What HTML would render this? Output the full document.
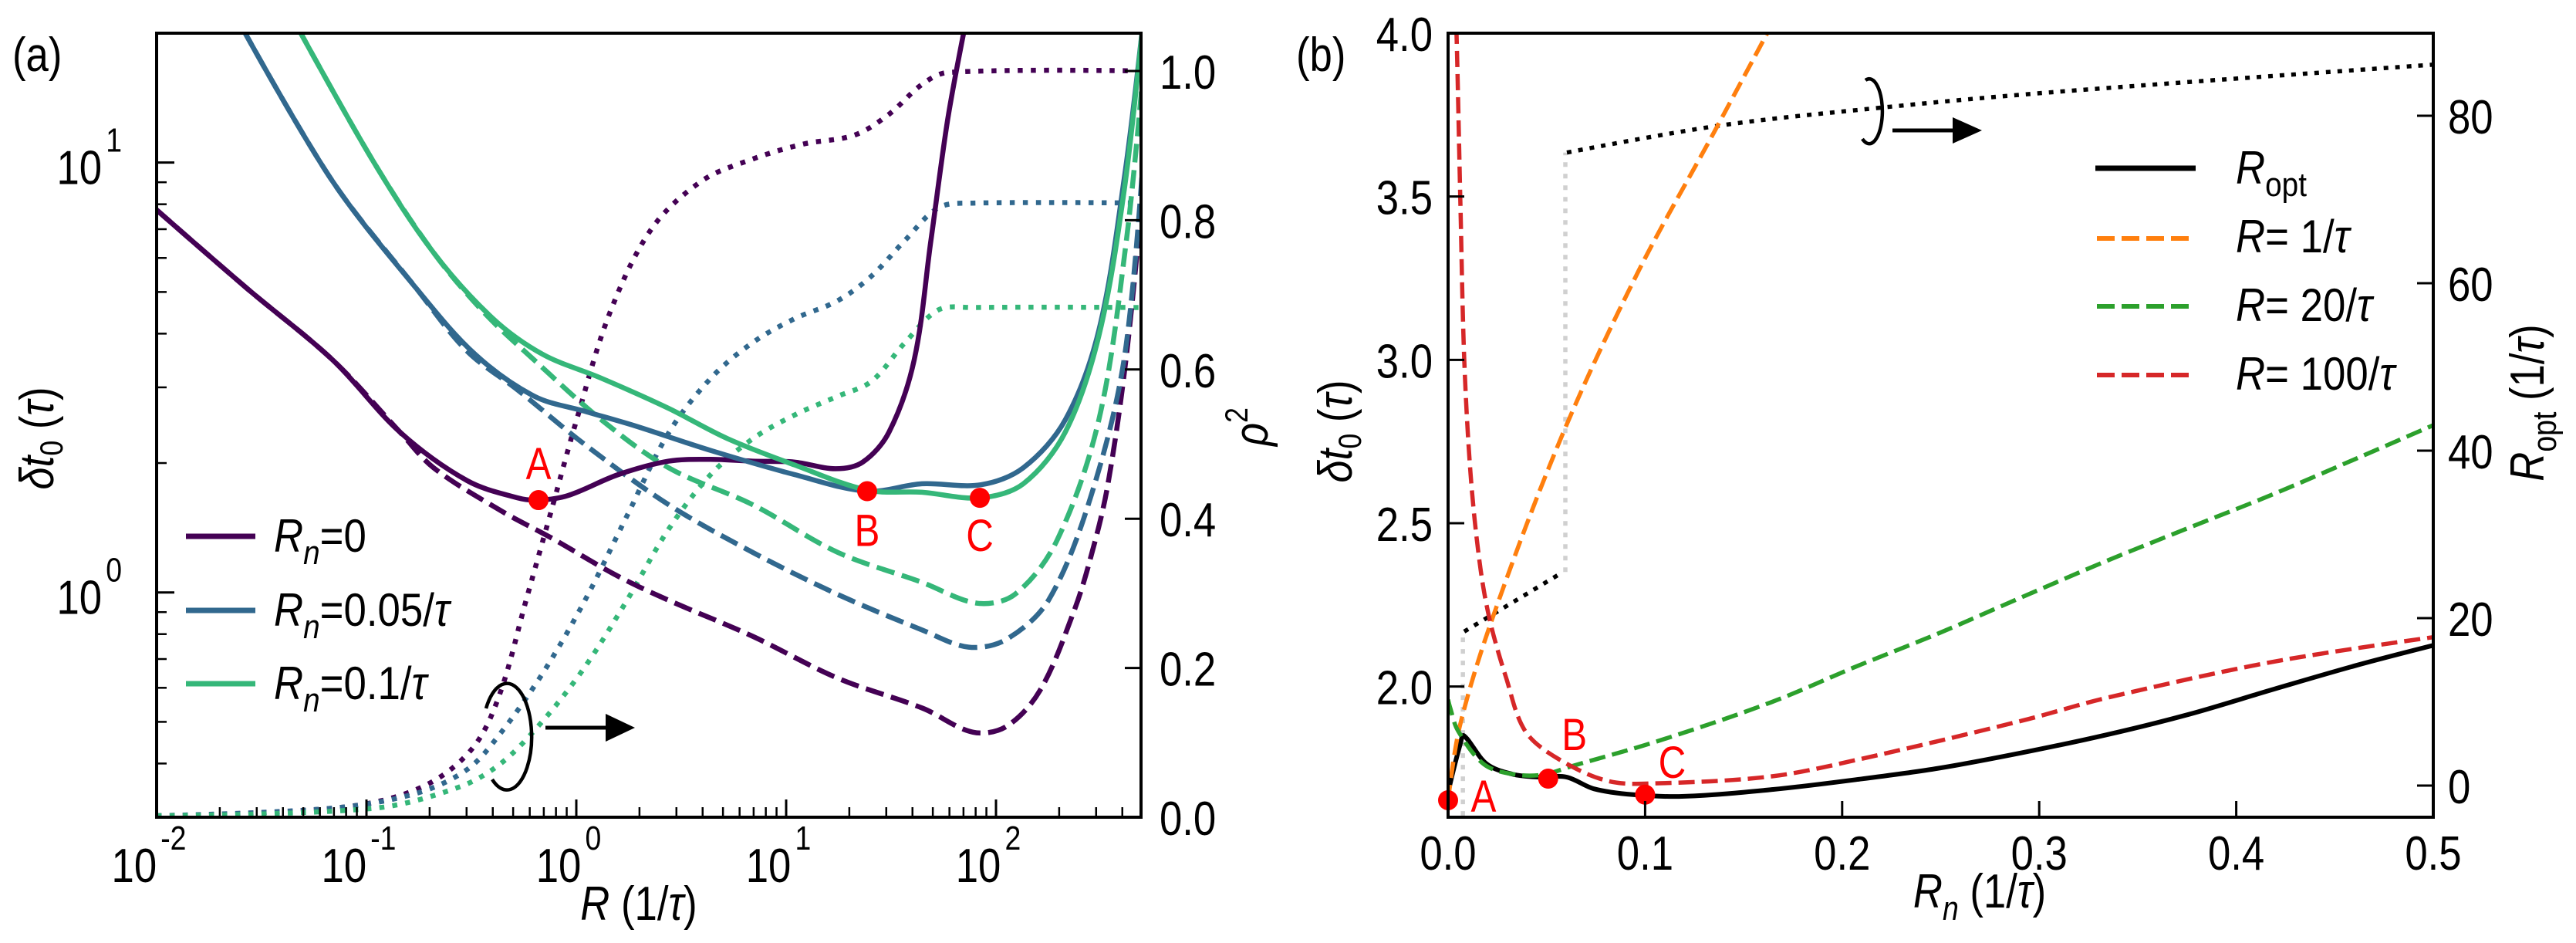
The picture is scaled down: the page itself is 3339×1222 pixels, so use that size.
<!DOCTYPE html>
<html><head><meta charset="utf-8"><style>
html,body{margin:0;padding:0;background:#fff;}
svg{display:block;font-family:"Liberation Sans",sans-serif;}
</style></head><body>
<svg id="fig" xmlns="http://www.w3.org/2000/svg" width="3339" height="1222" viewBox="0 0 3339 1222">
<defs>
<clipPath id="clipA"><rect x="203" y="43" width="1276" height="1016"/></clipPath>
<clipPath id="clipB"><rect x="1877" y="43" width="1277" height="1016"/></clipPath>
</defs>
<rect width="3339" height="1222" fill="#fff"/>
<g id="panelA">
 <g id="aMarks" clip-path="url(#clipA)"></g>
 <g id="aTicks"></g>
 <rect x="203" y="43" width="1276" height="1016" fill="none" stroke="#000" stroke-width="4"/>
 <text transform="translate(16,92) scale(0.85,1)" font-size="62">(a)</text>
 <text transform="translate(828,1192) scale(0.85,1)" font-size="62" text-anchor="middle"><tspan font-style="italic">R</tspan> (1/<tspan font-style="italic">τ</tspan>)</text>
 <text transform="translate(69,568) rotate(-90) scale(0.85,1)" font-size="62" text-anchor="middle"><tspan font-style="italic">δt</tspan><tspan font-size="42" dy="12">0</tspan><tspan dy="-12"> (</tspan><tspan font-style="italic">τ</tspan>)</text>
 <text transform="translate(1643,553) rotate(-90) scale(0.85,1)" font-size="62" text-anchor="middle"><tspan font-style="italic">ρ</tspan><tspan font-size="42" dy="-26">2</tspan></text>
 <g>
  <line x1="241" y1="695" x2="331" y2="695" stroke="#440154" stroke-width="7"/>
  <line x1="241" y1="791" x2="331" y2="791" stroke="#31688e" stroke-width="7"/>
  <line x1="241" y1="886" x2="331" y2="886" stroke="#35b779" stroke-width="7"/>
  <text transform="translate(355,715) scale(0.88,1)" font-size="60"><tspan font-style="italic">R</tspan><tspan font-style="italic" font-size="44" dy="16">n</tspan><tspan dy="-16">=0</tspan></text>
  <text transform="translate(355,811) scale(0.88,1)" font-size="60"><tspan font-style="italic">R</tspan><tspan font-style="italic" font-size="44" dy="16">n</tspan><tspan dy="-16">=0.05/</tspan><tspan font-style="italic">τ</tspan></text>
  <text transform="translate(355,906) scale(0.88,1)" font-size="60"><tspan font-style="italic">R</tspan><tspan font-style="italic" font-size="44" dy="16">n</tspan><tspan dy="-16">=0.1/</tspan><tspan font-style="italic">τ</tspan></text>
 </g>
 <path d="M 630 918 A 32 69 0 1 1 638 1010" fill="none" stroke="#000" stroke-width="4.5"/>
 <line x1="707" y1="943" x2="790" y2="943" stroke="#000" stroke-width="5"/>
 <polygon points="785,925 823,943 785,961" fill="#000"/>
</g>
<g id="panelB">
 <g id="bMarks" clip-path="url(#clipB)"></g>
 <g id="bTicks"></g>
 <rect x="1877" y="43" width="1277" height="1016" fill="none" stroke="#000" stroke-width="4"/>
 <text transform="translate(1680,92) scale(0.85,1)" font-size="62">(b)</text>
 <text transform="translate(2566,1176) scale(0.85,1)" font-size="62" text-anchor="middle"><tspan font-style="italic">R</tspan><tspan font-style="italic" font-size="44" dy="16">n</tspan><tspan dy="-16"> (1/</tspan><tspan font-style="italic">τ</tspan>)</text>
 <text transform="translate(1752,559) rotate(-90) scale(0.85,1)" font-size="62" text-anchor="middle"><tspan font-style="italic">δt</tspan><tspan font-size="42" dy="12">0</tspan><tspan dy="-12"> (</tspan><tspan font-style="italic">τ</tspan>)</text>
 <text transform="translate(3297,522) rotate(-90) scale(0.85,1)" font-size="62" text-anchor="middle"><tspan font-style="italic">R</tspan><tspan font-size="44" dy="16">opt</tspan><tspan dy="-16"> (1/</tspan><tspan font-style="italic">τ</tspan>)</text>
 <g>
  <line x1="2716" y1="218" x2="2846" y2="218" stroke="#000" stroke-width="7"/>
  <line x1="2718" y1="309" x2="2846" y2="309" stroke="#ff7f0e" stroke-width="6" stroke-dasharray="23 9"/>
  <line x1="2718" y1="397" x2="2846" y2="397" stroke="#2ca02c" stroke-width="6" stroke-dasharray="23 9"/>
  <line x1="2718" y1="486" x2="2846" y2="486" stroke="#d62728" stroke-width="6" stroke-dasharray="23 9"/>
  <text transform="translate(2898,238) scale(0.88,1)" font-size="60"><tspan font-style="italic">R</tspan><tspan font-size="44" dy="16">opt</tspan></text>
  <text transform="translate(2898,327) scale(0.88,1)" font-size="60"><tspan font-style="italic">R</tspan>= 1/<tspan font-style="italic">τ</tspan></text>
  <text transform="translate(2898,416) scale(0.88,1)" font-size="60"><tspan font-style="italic">R</tspan>= 20/<tspan font-style="italic">τ</tspan></text>
  <text transform="translate(2898,505) scale(0.88,1)" font-size="60"><tspan font-style="italic">R</tspan>= 100/<tspan font-style="italic">τ</tspan></text>
 </g>
 <path d="M 2418 104 A 17 42 0 1 1 2414 180" fill="none" stroke="#000" stroke-width="4.5"/>
 <line x1="2453" y1="169" x2="2535" y2="169" stroke="#000" stroke-width="5"/>
 <polygon points="2531,152 2569,169 2531,186" fill="#000"/>
</g>
</svg>
<script>
// ---------- Panel (a) data: log10(R) and delta t0 (tau) ----------
const aRn0SolidLogR = [-2.0,-1.57,-1.16,-0.84,-0.52,-0.28,-0.18,-0.04,0.2,0.44,0.64,0.84,1.04,1.235,1.365,1.49,1.61,1.69,1.77,1.85];
const aRn0SolidDt   = [7.76,5.1,3.47,2.36,1.82,1.66,1.64,1.68,1.88,2.02,2.04,2.02,2.01,1.94,2.01,2.36,3.47,6.6,12.6,20.5];
const aRn0DashLogR  = [-2.0,-1.57,-1.16,-0.84,-0.68,-0.36,-0.12,0.2,0.44,0.84,1.245,1.65,1.89,2.05,2.21,2.37,2.45,2.53,2.62,2.70];
const aRn0DashDt    = [7.76,5.1,3.47,2.36,1.95,1.55,1.34,1.09,0.959,0.791,0.632,0.538,0.473,0.488,0.592,0.9,1.2,1.75,3.5,8.6];
const aRn005SolidLogR = [-1.59,-1.165,-0.763,-0.482,-0.2,0.04,0.28,0.64,1.04,1.386,1.647,1.928,2.13,2.33,2.49,2.61,2.70];
const aRn005SolidDt   = [20.5,9.1,5.1,3.58,2.86,2.64,2.44,2.14,1.88,1.72,1.79,1.78,1.95,2.52,4.07,9.1,21];
const aRn005DashLogR = [-1.59,-1.165,-0.763,-0.52,-0.28,0.04,0.44,0.84,1.245,1.65,1.87,2.05,2.25,2.45,2.61,2.70];
const aRn005DashDt   = [20.5,9.1,5.1,3.64,2.96,2.21,1.60,1.24,0.99,0.817,0.746,0.778,0.959,1.66,3.47,10];
const aRn01SolidLogR = [-1.325,-0.964,-0.683,-0.40,-0.16,0.12,0.44,0.72,1.04,1.386,1.647,1.923,2.13,2.33,2.49,2.61,2.70];
const aRn01SolidDt   = [20.5,10.0,6.2,4.35,3.58,3.15,2.68,2.28,1.98,1.73,1.71,1.66,1.79,2.36,3.95,8.55,21];
const aRn01DashLogR = [-1.325,-0.964,-0.683,-0.44,-0.2,0.12,0.44,0.84,1.245,1.647,1.91,2.09,2.29,2.49,2.62,2.70];
const aRn01DashDt   = [20.5,10.0,6.2,4.48,3.47,2.52,1.95,1.60,1.24,1.056,0.944,0.99,1.32,2.52,6.5,16];
// rho^2 dotted curves (right axis)
const aRn0RhoLogR = [-2.0,-1.365,-0.964,-0.683,-0.482,-0.36,-0.24,-0.12,0,0.16,0.36,0.60,0.84,1.08,1.325,1.49,1.647,1.77,2.70];
const aRn0Rho     = [0.002,0.008,0.02,0.048,0.097,0.169,0.29,0.41,0.531,0.676,0.789,0.853,0.882,0.902,0.914,0.942,0.982,0.998,1.0];
const aRn005RhoLogR = [-2.0,-1.165,-0.763,-0.52,-0.36,-0.16,0.04,0.24,0.44,0.64,0.84,1.04,1.245,1.406,1.566,1.727,1.888,2.70];
const aRn005Rho     = [0.002,0.012,0.032,0.064,0.113,0.193,0.29,0.403,0.515,0.588,0.636,0.668,0.692,0.725,0.773,0.817,0.823,0.823];
const aRn01RhoLogR = [-2.0,-0.964,-0.562,-0.36,-0.16,0.04,0.24,0.44,0.64,0.84,1.04,1.245,1.406,1.566,1.727,1.888,2.70];
const aRn01Rho     = [0.002,0.012,0.040,0.072,0.129,0.201,0.29,0.386,0.459,0.507,0.539,0.564,0.584,0.636,0.680,0.683,0.683];
const aPointLabels = ["A","B","C"];
const aPointLogR = [-0.18,1.386,1.923];
const aPointDt = [1.64,1.72,1.66];
const aXTickExp = [-2,-1,0,1,2];
const aYTickExp = [0,1];
const aRhoTicks = [0.0,0.2,0.4,0.6,0.8,1.0];
const aRhoTickLabels = ["0.0","0.2","0.4","0.6","0.8","1.0"];

// ---------- Panel (b) data ----------
const bOptRn = [0,0.0004,0.0063,0.008,0.0196,0.0325,0.045,0.06,0.074,0.094,0.12,0.165,0.207,0.249,0.291,0.334,0.376,0.418,0.461,0.5];
const bOptDt = [1.652,1.685,1.827,1.85,1.763,1.732,1.723,1.723,1.687,1.669,1.664,1.685,1.715,1.750,1.797,1.852,1.915,1.990,2.065,2.126];
const bR1Rn = [0.0,0.006,0.023,0.0583,0.097,0.135,0.162];
const bR1Dt = [1.65,1.88,2.217,2.775,3.276,3.697,4.0];
const bR20Rn = [0.0,0.001,0.005,0.018,0.0325,0.048,0.0626,0.107,0.164,0.207,0.249,0.291,0.334,0.376,0.418,0.461,0.5];
const bR20Dt = [1.96,1.936,1.865,1.763,1.732,1.73,1.756,1.834,1.952,2.061,2.163,2.273,2.384,2.486,2.587,2.698,2.80];
const bR100Rn = [0.0025,0.0043,0.0063,0.0082,0.0114,0.016,0.0211,0.0294,0.039,0.055,0.081,0.107,0.164,0.207,0.291,0.334,0.418,0.5];
const bR100Dt = [4.3,3.993,3.465,3.004,2.652,2.38,2.205,2.028,1.865,1.782,1.711,1.704,1.725,1.775,1.895,1.965,2.075,2.151];
const bRoptLowRn = [0.0082,0.0583];
const bRoptLow = [18.4,25.5];
const bRoptHighRn = [0.0603,0.137,0.217,0.306,0.5];
const bRoptHigh = [75.6,78.8,80.9,82.8,86.1];
const bJumpRn = [0.0075,0.0595];
const bJumpLo = [-3.6,25.5];
const bJumpHi = [18.4,75.6];
const bPointLabels = ["A","B","C"];
const bPointRn = [0.0,0.0508,0.1];
const bPointDt = [1.652,1.718,1.669];
const bXTicks = [0,0.1,0.2,0.3,0.4,0.5];
const bXTickLabels = ["0.0","0.1","0.2","0.3","0.4","0.5"];
const bYTicks = [2.0,2.5,3.0,3.5,4.0];
const bYTickLabels = ["2.0","2.5","3.0","3.5","4.0"];
const bY2Ticks = [0,20,40,60,80];
const bY2TickLabels = ["0","20","40","60","80"];

// ---------- axis functions ----------
const NS = "http://www.w3.org/2000/svg";
const xa = lr => 203 + (lr + 2) * 272;
const ya = d => 1059 - (Math.log10(d) - Math.log10(0.3)) / (Math.log10(20) - Math.log10(0.3)) * 1016;
const yaR = r => 1059 - r * 967;
const xb = rn => 1877 + rn / 0.5 * 1277;
const yb = d => 1059 - (d - 1.6) / 2.4 * 1016;
const yb2 = r => 1018 - r * 10.85;

function dist(a,b){ return Math.hypot(a[0]-b[0], a[1]-b[1]) || 1e-6; }
function smoothPath(pts){
  if(pts.length < 3) return "M" + pts.map(p => p[0].toFixed(1)+","+p[1].toFixed(1)).join(" L");
  let d = "M" + pts[0][0].toFixed(1) + "," + pts[0][1].toFixed(1);
  for(let i=0;i<pts.length-1;i++){
    const p0 = pts[Math.max(0,i-1)], p1 = pts[i], p2 = pts[i+1], p3 = pts[Math.min(pts.length-1,i+2)];
    const d01 = dist(p0,p1), d12 = dist(p1,p2), d23 = dist(p2,p3);
    const k1 = (i===0) ? 0 : d12/(d01+d12)/3*1.0;
    const k2 = (i===pts.length-2) ? 0 : d12/(d12+d23)/3*1.0;
    const c1 = [p1[0]+(p2[0]-p0[0])*k1, p1[1]+(p2[1]-p0[1])*k1];
    const c2 = [p2[0]-(p3[0]-p1[0])*k2, p2[1]-(p3[1]-p1[1])*k2];
    d += " C"+c1[0].toFixed(1)+","+c1[1].toFixed(1)+" "+c2[0].toFixed(1)+","+c2[1].toFixed(1)+" "+p2[0].toFixed(1)+","+p2[1].toFixed(1);
  }
  return d;
}
function drawLine(parent, xs, ys, fx, fy, color, width, dash, name, smooth){
  const pts = xs.map((x,i)=>[fx(x), fy(ys[i])]);
  const p = document.createElementNS(NS,"path");
  p.setAttribute("d", smooth===false ? "M"+pts.map(q=>q[0].toFixed(1)+","+q[1].toFixed(1)).join(" L") : smoothPath(pts));
  p.setAttribute("fill","none");
  p.setAttribute("stroke",color);
  p.setAttribute("stroke-width",width);
  if(dash) p.setAttribute("stroke-dasharray",dash);
  
  
  parent.appendChild(p);
}
function tick(parent,x1,y1,x2,y2,w,name){
  const l = document.createElementNS(NS,"line");
  l.setAttribute("x1",x1); l.setAttribute("y1",y1); l.setAttribute("x2",x2); l.setAttribute("y2",y2);
  l.setAttribute("stroke","#000"); l.setAttribute("stroke-width",w);
  
  
  parent.appendChild(l);
}
function label(parent,x,y,str,anchor,name,size){
  const t = document.createElementNS(NS,"text");
  t.setAttribute("transform","translate("+x+","+y+") scale(0.85,1)");
  t.setAttribute("font-size",size||62);
  t.setAttribute("text-anchor",anchor);
  t.textContent = str;
  
  
  parent.appendChild(t);
  return t;
}
function powLabel(parent,x,y,exp,anchor,name){
  const t = document.createElementNS(NS,"text");
  t.setAttribute("transform","translate("+x+","+y+") scale(0.85,1)");
  t.setAttribute("font-size",62);
  t.setAttribute("text-anchor",anchor);
  const s1 = document.createElementNS(NS,"tspan"); s1.textContent="10";
  const s2 = document.createElementNS(NS,"tspan"); s2.setAttribute("font-size","44"); s2.setAttribute("dy","-42"); s2.setAttribute("dx","6");
  s2.textContent = exp < 0 ? "-" + Math.abs(exp) : String(exp);
  t.appendChild(s1); t.appendChild(s2);
  
  
  parent.appendChild(t);
}
function marker(parent,cx,cy,name){
  const c = document.createElementNS(NS,"circle");
  c.setAttribute("cx",cx); c.setAttribute("cy",cy); c.setAttribute("r",13); c.setAttribute("fill","#ff0000");
  
  
  parent.appendChild(c);
}

// ---------- Panel (a) ----------
const aM = document.getElementById("aMarks");
const aT = document.getElementById("aTicks");
const DOT = "6.5 10.5", DASH = "24 10";
drawLine(aM, aRn0RhoLogR, aRn0Rho, xa, yaR, "#440154", 6.5, DOT, "rho2-rn0-dotted");
drawLine(aM, aRn005RhoLogR, aRn005Rho, xa, yaR, "#31688e", 6.5, DOT, "rho2-rn005-dotted");
drawLine(aM, aRn01RhoLogR, aRn01Rho, xa, yaR, "#35b779", 6.5, DOT, "rho2-rn01-dotted");
drawLine(aM, aRn0DashLogR, aRn0DashDt, xa, ya, "#440154", 6.5, DASH, "dt-rn0-dashed");
drawLine(aM, aRn005DashLogR, aRn005DashDt, xa, ya, "#31688e", 6.5, DASH, "dt-rn005-dashed");
drawLine(aM, aRn01DashLogR, aRn01DashDt, xa, ya, "#35b779", 6.5, DASH, "dt-rn01-dashed");
drawLine(aM, aRn0SolidLogR, aRn0SolidDt, xa, ya, "#440154", 6.5, null, "dt-rn0-solid");
drawLine(aM, aRn005SolidLogR, aRn005SolidDt, xa, ya, "#31688e", 6.5, null, "dt-rn005-solid");
drawLine(aM, aRn01SolidLogR, aRn01SolidDt, xa, ya, "#35b779", 6.5, null, "dt-rn01-solid");
const aLabelDy = [-27, 71, 69];
aPointLabels.forEach((L,i)=>{
  const cx = xa(aPointLogR[i]), cy = ya(aPointDt[i]);
  marker(aT, cx, cy, "point-"+L.toLowerCase());
  const t = label(aT, cx, cy+aLabelDy[i], L, "middle", "point-label-"+L.toLowerCase(), 58);
  t.setAttribute("fill","#ff0000");
});
aXTickExp.forEach(e=>{
  const x = xa(e);
  tick(aT, x, 1059, x, 1036, 3, "x-major-tick");
  powLabel(aT, x-10, 1143, e, "middle", "x-tick-label");
  for(let m=2;m<=9;m++){
    const lv = e + Math.log10(m);
    if(lv < 2.69) tick(aT, xa(lv), 1059, xa(lv), 1046, 2.5, "x-minor-tick");
  }
});
aYTickExp.forEach(e=>{
  const y = ya(Math.pow(10,e));
  tick(aT, 203, y, 226, y, 3, "y-major-tick");
  powLabel(aT, 158, y+28, e, "end", "y-tick-label");
});
[0.3,0.4,0.5,0.6,0.7,0.8,0.9,2,3,4,5,6,7,8,9].forEach(v=>{
  const y = ya(v);
  tick(aT, 203, y, 216, y, 2.5, "y-minor-tick");
});
aRhoTicks.forEach((r,i)=>{
  const y = yaR(r);
  tick(aT, 1479, y, 1458, y, 3, "rho2-tick");
  label(aT, 1503, y+23, aRhoTickLabels[i], "start", "rho2-tick-label");
});

// ---------- Panel (b) ----------
const bM = document.getElementById("bMarks");
const bT = document.getElementById("bTicks");
const DASHB = "21 9", DOTB = "6 9";
for(let i=0;i<bJumpRn.length;i++){
  drawLine(bM, [bJumpRn[i],bJumpRn[i]], [bJumpLo[i],bJumpHi[i]], xb, yb2, "#d0d0d0", 5.5, DOTB, "ropt-jump-grey-dotted", false);
}
drawLine(bM, bRoptLowRn, bRoptLow, xb, yb2, "#000", 5.5, DOTB, "ropt-dotted-low", false);
drawLine(bM, bRoptHighRn, bRoptHigh, xb, yb2, "#000", 5.5, DOTB, "ropt-dotted-high");
drawLine(bM, bOptRn, bOptDt, xb, yb, "#000", 6, null, "dt-ropt-solid");
drawLine(bM, bR1Rn, bR1Dt, xb, yb, "#ff7f0e", 5.5, DASHB, "dt-r1-dashed");
drawLine(bM, bR20Rn, bR20Dt, xb, yb, "#2ca02c", 5.5, DASHB, "dt-r20-dashed");
drawLine(bM, bR100Rn, bR100Dt, xb, yb, "#d62728", 5.5, DASHB, "dt-r100-dashed");
const bLabelDx = [46, 34, 35], bLabelDy = [15, -37, -22];
bPointLabels.forEach((L,i)=>{
  const cx = xb(bPointRn[i]), cy = yb(bPointDt[i]);
  marker(bT, cx, cy, "b-point-"+L.toLowerCase());
  const t = label(bT, cx+bLabelDx[i], cy+bLabelDy[i], L, "middle", "b-point-label-"+L.toLowerCase(), 58);
  t.setAttribute("fill","#ff0000");
});
bXTicks.forEach((v,i)=>{
  const x = xb(v);
  tick(bT, x, 1059, x, 1038, 3, "b-x-tick");
  label(bT, x, 1127, bXTickLabels[i], "middle", "b-x-tick-label");
});
bYTicks.forEach((v,i)=>{
  const y = yb(v);
  tick(bT, 1877, y, 1898, y, 3, "b-y-tick");
  label(bT, 1857, y+23, bYTickLabels[i], "end", "b-y-tick-label");
});
bY2Ticks.forEach((v,i)=>{
  const y = yb2(v);
  tick(bT, 3154, y, 3133, y, 3, "b-y2-tick");
  label(bT, 3173, y+23, bY2TickLabels[i], "start", "b-y2-tick-label");
});
</script>
</body></html>
